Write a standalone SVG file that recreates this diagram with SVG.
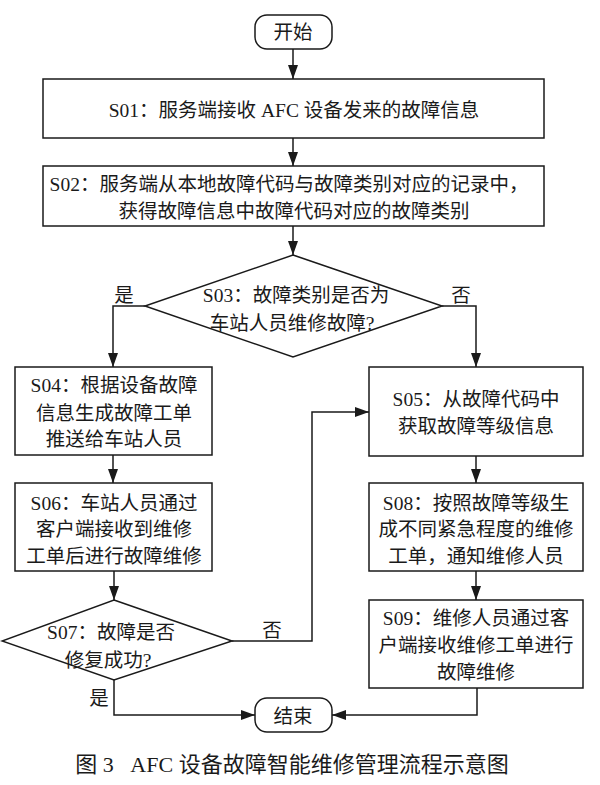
<svg xmlns="http://www.w3.org/2000/svg" width="600" height="785" viewBox="0 0 600 785">
<defs>
<marker id="arr" viewBox="0 0 14 10" refX="14" refY="5" markerWidth="14" markerHeight="10" markerUnits="userSpaceOnUse" orient="auto">
<path d="M0,0 L14,5 L0,10 Z" fill="#1a1a1a"/>
</marker>
<style>
.box{fill:#fff;stroke:#1a1a1a;stroke-width:1.5}
.t{font-family:"Liberation Serif","Noto Sans CJK SC",serif;font-size:19.5px;fill:#1a1a1a;text-anchor:middle}
.cap{font-family:"Liberation Serif","Noto Sans CJK SC",serif;font-size:22px;fill:#1a1a1a;text-anchor:middle}
.ln{fill:none;stroke:#1a1a1a;stroke-width:1.5}
</style>
</defs>
<rect width="600" height="785" fill="#fff"/>
<g id="connectors">
<path class="ln" d="M293,49 V79" marker-end="url(#arr)"/>
<path class="ln" d="M293,138 V166" marker-end="url(#arr)"/>
<path class="ln" d="M293,226 V255" marker-end="url(#arr)"/>
<path class="ln" d="M145,306 H113 V367" marker-end="url(#arr)"/>
<path class="ln" d="M442,306 H476 V367" marker-end="url(#arr)"/>
<path class="ln" d="M113,455 V483" marker-end="url(#arr)"/>
<path class="ln" d="M476,456 V483" marker-end="url(#arr)"/>
<path class="ln" d="M114,571 V600" marker-end="url(#arr)"/>
<path class="ln" d="M476,571 V600" marker-end="url(#arr)"/>
<path class="ln" d="M232,641 H312 V412 H369" marker-end="url(#arr)"/>
<path class="ln" d="M114,680 V715 H255" marker-end="url(#arr)"/>
<path class="ln" d="M477,688 V715 H332" marker-end="url(#arr)"/>
<text class="t" x="124" y="302">是</text>
<text class="t" x="461" y="302">否</text>
<text class="t" x="272" y="637">否</text>
<text class="t" x="99" y="705">是</text>
</g>
<g id="start">
<rect class="box" x="255" y="15" width="77" height="34" rx="12"/>
<text class="t" x="293" y="39">开始</text>
</g>
<g id="S01">
<rect class="box" x="43" y="79" width="501" height="59"/>
<text class="t" x="294" y="117">S01：服务端接收 AFC 设备发来的故障信息</text>
</g>
<g id="S02">
<rect class="box" x="43" y="166" width="501" height="60"/>
<text class="t" x="289" y="191">S02：服务端从本地故障代码与故障类别对应的记录中，</text>
<text class="t" x="294" y="218">获得故障信息中故障代码对应的故障类别</text>
</g>
<g id="S03">
<polygon class="box" points="293,255 442,306 293,357 145,306"/>
<text class="t" x="296" y="302">S03：故障类别是否为</text>
<text class="t" x="292" y="330">车站人员维修故障?</text>
</g>
<g id="S04">
<rect class="box" x="15" y="367" width="197" height="88"/>
<text class="t" x="114" y="392">S04：根据设备故障</text>
<text class="t" x="114" y="420">信息生成故障工单</text>
<text class="t" x="114" y="446">推送给车站人员</text>
</g>
<g id="S05">
<rect class="box" x="369" y="367" width="214" height="89"/>
<text class="t" x="476" y="406">S05：从故障代码中</text>
<text class="t" x="476" y="433">获取故障等级信息</text>
</g>
<g id="S06">
<rect class="box" x="15" y="483" width="197" height="88"/>
<text class="t" x="114" y="510">S06：车站人员通过</text>
<text class="t" x="114" y="536">客户端接收到维修</text>
<text class="t" x="114" y="563">工单后进行故障维修</text>
</g>
<g id="S07">
<polygon class="box" points="114,600 232,641 114,680 2,641"/>
<text class="t" x="111" y="639">S07：故障是否</text>
<text class="t" x="108" y="667">修复成功?</text>
</g>
<g id="S08">
<rect class="box" x="369" y="483" width="214" height="88"/>
<text class="t" x="476" y="510">S08：按照故障等级生</text>
<text class="t" x="476" y="536">成不同紧急程度的维修</text>
<text class="t" x="476" y="563">工单，通知维修人员</text>
</g>
<g id="S09">
<rect class="box" x="369" y="600" width="214" height="88"/>
<text class="t" x="476" y="625">S09：维修人员通过客</text>
<text class="t" x="476" y="652">户端接收维修工单进行</text>
<text class="t" x="476" y="679">故障维修</text>
</g>
<g id="end">
<rect class="box" x="255" y="698" width="77" height="34" rx="12"/>
<text class="t" x="293" y="723">结束</text>
</g>
<text class="cap" x="292" y="772" xml:space="preserve">图 3   AFC 设备故障智能维修管理流程示意图</text>
</svg>
